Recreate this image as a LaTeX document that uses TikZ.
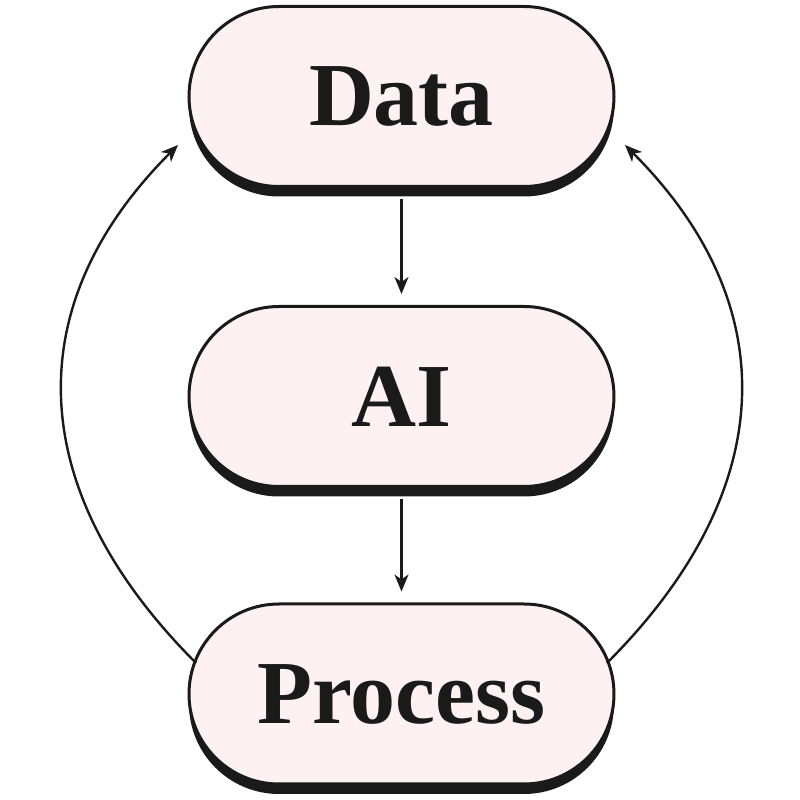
\documentclass[tikz,border=0pt]{standalone}
\usepackage{fontspec}
\setmainfont{Liberation Serif}
\usetikzlibrary{shapes.misc,shadows,arrows.meta}
\definecolor{ink}{HTML}{1A1A1A}
\definecolor{pill}{HTML}{FDF2F1}
\begin{document}
\begin{tikzpicture}[x=0.5pt,y=0.5pt,
  pillbox/.style={rounded rectangle, draw=ink, line width=1.5pt, fill=pill,
    minimum width=212.5pt, minimum height=90pt, inner sep=0pt,
    font=\fontsize{45}{50}\selectfont\bfseries, text=ink,
    drop shadow={shadow xshift=0pt, shadow yshift=-5pt, fill=ink, opacity=1}},
  conn/.style={draw=ink, line width=1.1pt, -{Stealth[length=8.5pt,width=7pt,inset=2.5pt]}},
  loopconn/.style={conn, line width=1.2pt}]
\useasboundingbox (0,0) rectangle (800,800);
\node[pillbox] (data) at (401.5,703.5) {Data};
\node[pillbox] (ai) at (401.5,403.5) {AI};
\node[pillbox] (proc) at (401.5,106) {Process};
\draw[conn] ([yshift=-5.5pt]data.south) -- ([yshift=5.5pt]ai.north);
\draw[conn] ([yshift=-5.5pt]ai.south) -- ([yshift=5.5pt]proc.north);
\coordinate (pl) at (196,137);
\coordinate (dl) at (178,655);
\coordinate (pr) at (607,137);
\coordinate (dr) at (625,655);
\draw[loopconn] (pl) .. controls (24,309) and (17,494) .. (dl);
\draw[loopconn] (pr) .. controls (779,309) and (786,494) .. (dr);
\end{tikzpicture}
\end{document}
